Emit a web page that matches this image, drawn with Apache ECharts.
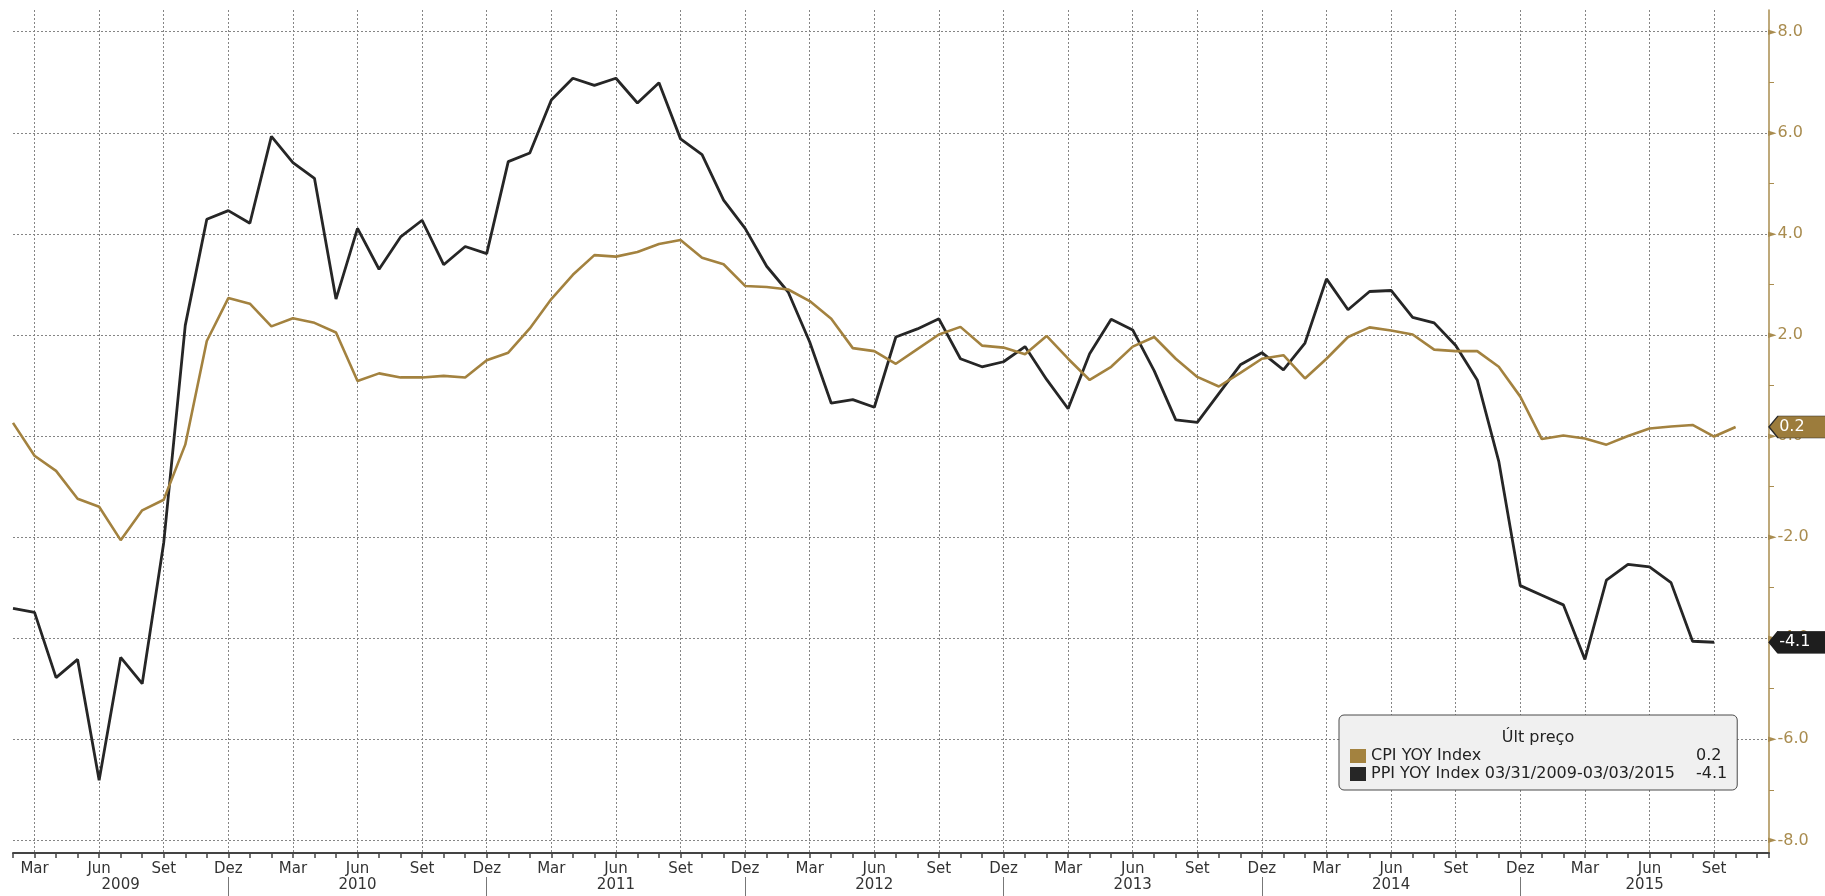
<!DOCTYPE html>
<html>
<head>
<meta charset="utf-8">
<title>CPI x PPI YOY</title>
<script src="https://cdn.jsdelivr.net/npm/echarts@6/dist/echarts.min.js"></script>
<style>
  html, body { margin: 0; padding: 0; background: #fff; }
  #chart { width: 1825px; height: 896px; }
</style>
</head>
<body>
<div id="chart"></div>
<script>
// eixo x em meses contados desde dez/2008 (fev/2009 = 2)
const firstMonth = 2
const monthNames = ['Jan', 'Fev', 'Mar', 'Abr', 'Mai', 'Jun', 'Jul', 'Ago', 'Set', 'Out', 'Nov', 'Dez']
const years = ['2009', '2010', '2011', '2012', '2013', '2014', '2015']

// CPI YOY Index, fev/2009 .. out/2015
const cpi = [
  0.26, -0.39, -0.69, -1.24, -1.40, -2.06, -1.47, -1.26, -0.17, 1.88,
  2.73, 2.62, 2.17, 2.33, 2.24, 2.05, 1.09, 1.24, 1.16, 1.16,
  1.19, 1.16, 1.50, 1.65, 2.13, 2.71, 3.19, 3.58, 3.55, 3.64,
  3.80, 3.88, 3.53, 3.40, 2.97, 2.95, 2.90, 2.67, 2.32, 1.74,
  1.68, 1.43, 1.72, 2.01, 2.16, 1.79, 1.75, 1.62, 1.98, 1.53,
  1.11, 1.37, 1.77, 1.96, 1.53, 1.17, 0.98, 1.25, 1.53, 1.60,
  1.14, 1.53, 1.96, 2.15, 2.09, 2.01, 1.71, 1.68, 1.68, 1.37,
  0.78, -0.06, 0.01, -0.05, -0.17, 0.00, 0.15, 0.19, 0.22, -0.01,
  0.18
]

// PPI YOY Index, fev/2009 .. set/2015
const ppi = [
  -3.41, -3.49, -4.78, -4.42, -6.81, -4.38, -4.90, -2.11, 2.19, 4.29,
  4.46, 4.21, 5.93, 5.41, 5.10, 2.71, 4.11, 3.30, 3.94, 4.27,
  3.39, 3.75, 3.61, 5.43, 5.60, 6.65, 7.08, 6.94, 7.08, 6.59,
  6.99, 5.88, 5.57, 4.67, 4.11, 3.36, 2.85, 1.86, 0.65, 0.72,
  0.57, 1.96, 2.12, 2.32, 1.53, 1.37, 1.47, 1.77, 1.12, 0.54,
  1.63, 2.31, 2.10, 1.29, 0.32, 0.27, 0.84, 1.41, 1.65, 1.31,
  1.84, 3.11, 2.50, 2.86, 2.88, 2.35, 2.24, 1.79, 1.11, -0.50,
  -2.96, -3.15, -3.34, -4.42, -2.85, -2.54, -2.59, -2.90, -4.06, -4.08
]

const seriesNames = ['CPI YOY Index', 'PPI YOY Index 03/31/2009-03/03/2015']

const gold = '#a3823f'
const axisGold = '#a98c4f'
const dark = '#262626'
const gridGray = '#858585'
const font = 'DejaVu Sans'

const xMin = firstMonth
const xMax = 83.55
const yMin = -8.25
const yMax = 8.43

// separadores de ano (dez) e centro visível de cada ano
const yearEdges = [xMin, 12, 24, 36, 48, 60, 72, xMax]
const yearSeps = yearEdges.slice(1, -1)
const yearCenters = years.map((y, i) => (yearEdges[i] + yearEdges[i + 1]) / 2)

const toPoints = arr => arr.map((v, i) => [firstMonth + i, v])
const last = arr => arr[arr.length - 1]
const lastValues = [last(cpi), last(ppi)]

// etiqueta do último preço, com ponta para o eixo
const tagPath = 'path://M0,11 L9,0 L62,0 L62,22 L9,22 Z'

function makeTag (value, fill, border) {
  return {
    symbol: tagPath,
    symbolSize: [62, 22],
    symbolOffset: [31, 0],
    silent: true,
    itemStyle: { color: fill, borderColor: border, borderWidth: 1 },
    label: {
      show: true,
      position: 'insideLeft',
      distance: 11,
      color: '#fff',
      fontSize: 16,
      fontFamily: font,
      formatter: () => value.toFixed(1)
    },
    data: [{ coord: [xMax, value], value: value }]
  }
}

const myChart = echarts.init(document.getElementById('chart'))

const option = {
  animation: false,
  backgroundColor: '#fff',
  textStyle: { fontFamily: font },
  grid: { left: 13, right: 56, top: 10, bottom: 43, containLabel: false, outerBoundsMode: 'none' },
  xAxis: [
    // meses
    {
      type: 'value',
      position: 'bottom',
      min: xMin,
      max: xMax,
      minInterval: 1,
      maxInterval: 1,
      splitNumber: 80,
      axisLine: { show: true, onZero: false, lineStyle: { color: '#444', width: 2 } },
      axisTick: { show: true, length: 5, lineStyle: { color: '#444', width: 1.5 } },
      axisLabel: {
        margin: 9,
        fontSize: 15,
        color: '#333',
        fontFamily: font,
        formatter: v => (Number.isInteger(v) && v % 3 === 0) ? monthNames[(v - 1) % 12] : ''
      },
      splitLine: { show: false }
    },
    // grade vertical trimestral
    {
      type: 'value',
      position: 'bottom',
      min: xMin,
      max: xMax,
      minInterval: 3,
      maxInterval: 3,
      splitNumber: 27,
      axisLine: { show: false, onZero: false },
      axisTick: { show: false },
      axisLabel: { show: false },
      splitLine: {
        show: true,
        showMinLine: false,
        showMaxLine: false,
        lineStyle: { color: gridGray, width: 1, type: [2, 2] }
      }
    },
    // anos
    {
      type: 'value',
      position: 'bottom',
      offset: 24,
      min: xMin,
      max: xMax,
      axisLine: { show: false, onZero: false },
      axisTick: { show: true, customValues: yearSeps, length: 24, lineStyle: { color: '#777', width: 1 } },
      axisLabel: {
        customValues: yearCenters,
        margin: 1,
        fontSize: 15,
        color: '#333',
        fontFamily: font,
        formatter: v => years[yearCenters.findIndex(c => Math.abs(c - v) < 1e-6)] || ''
      },
      splitLine: { show: false }
    }
  ],
  yAxis: {
    type: 'value',
    position: 'right',
    min: yMin,
    max: yMax,
    minInterval: 2,
    maxInterval: 2,
    splitNumber: 8,
    axisLine: { show: true, onZero: false, lineStyle: { color: axisGold, width: 1.5 } },
    axisTick: { show: false },
    minorTick: { show: true, splitNumber: 2, length: 5, lineStyle: { color: axisGold, width: 1 } },
    axisLabel: {
      margin: -1,
      formatter: v => Math.abs(v / 2 - Math.round(v / 2)) < 1e-6 ? '{t|►}{v|' + v.toFixed(1) + '}' : '',
      rich: {
        t: { color: axisGold, fontSize: 11, fontFamily: font, padding: [0, 1, 0, 0] },
        v: { color: axisGold, fontSize: 16, fontFamily: font }
      }
    },
    splitLine: {
      show: true,
      showMinLine: false,
      showMaxLine: false,
      lineStyle: { color: gridGray, width: 1, type: [2, 2] }
    }
  },
  legend: {
    orient: 'vertical',
    left: 1339,
    top: 715,
    padding: [33, 10, 8, 11],
    itemGap: 2,
    itemWidth: 16,
    itemHeight: 14,
    icon: 'rect',
    selectedMode: false,
    backgroundColor: '#f0f0f0',
    borderColor: '#4a4a4a',
    borderWidth: 1,
    borderRadius: 5,
    data: seriesNames,
    formatter: name => {
      const i = seriesNames.indexOf(name)
      return '{n|' + name + '}{v|' + lastValues[i].toFixed(1) + '}'
    },
    textStyle: {
      fontSize: 16,
      color: '#222',
      fontFamily: font,
      rich: {
        n: { width: 325, fontSize: 16, lineHeight: 19, color: '#222', fontFamily: font },
        v: { fontSize: 16, lineHeight: 19, color: '#222', fontFamily: font }
      }
    }
  },
  graphic: [
    {
      type: 'text',
      x: 1538,
      y: 738,
      z: 100,
      silent: true,
      style: {
        text: 'Últ preço',
        fill: '#222',
        fontSize: 16,
        fontFamily: font,
        align: 'center',
        verticalAlign: 'middle'
      }
    }
  ],
  series: [
    {
      name: seriesNames[1],
      type: 'line',
      xAxisIndex: 0,
      data: toPoints(ppi),
      symbol: 'none',
      lineStyle: { color: dark, width: 2.8 },
      itemStyle: { color: dark },
      emphasis: { disabled: true },
      z: 3,
      markPoint: makeTag(last(ppi), '#1e1e1e', '#1e1e1e')
    },
    {
      name: seriesNames[0],
      type: 'line',
      xAxisIndex: 0,
      data: toPoints(cpi),
      symbol: 'none',
      lineStyle: { color: gold, width: 2.6 },
      itemStyle: { color: gold },
      emphasis: { disabled: true },
      z: 4,
      markPoint: makeTag(last(cpi), '#9c7c3c', '#2a2a2a')
    }
  ]
}

myChart.setOption(option)
</script>
</body>
</html>
